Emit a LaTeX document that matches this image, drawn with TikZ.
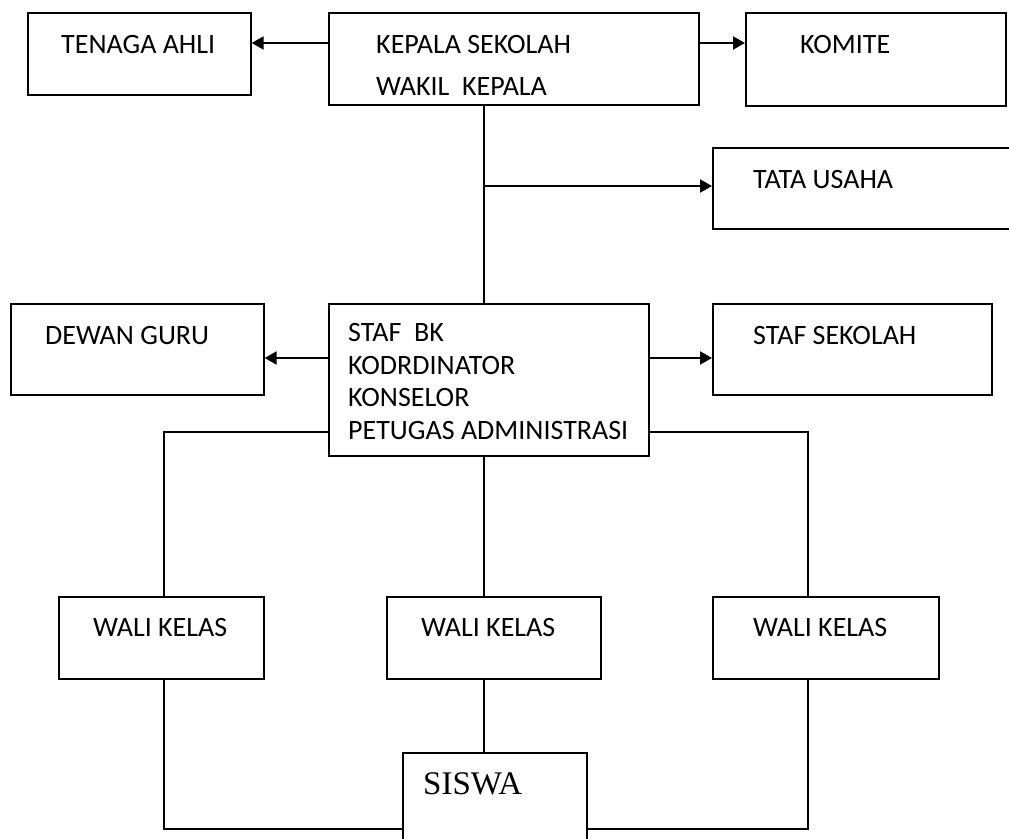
\documentclass[tikz,border=0pt]{standalone}
\usepackage{fontspec}
\setmainfont{Carlito}
\newfontfamily\timesfont{Liberation Serif}
\usetikzlibrary{arrows.meta}
\tikzset{
  box/.style={draw, line width=1.7pt, rectangle, inner sep=0pt, anchor=north west},
  lbl/.style={anchor=base west, inner sep=0pt, font=\fontsize{28}{33}\selectfont},
  conn/.style={line width=1.3pt},
  arr/.style={line width=2.2pt, -{Triangle[length=12pt,width=13pt]}},
}
\begin{document}
\begin{tikzpicture}[x=1pt,y=-1pt]
\useasboundingbox (0,0) rectangle (1009,838);
% boxes
\node[box, minimum width=223pt, minimum height=82pt] (tenaga) at (27,12) {};
\node[box, minimum width=370pt, minimum height=92pt] (kepala) at (328,12) {};
\node[box, minimum width=260pt, minimum height=93pt] (komite) at (745,12) {};
\node[box, minimum width=310pt, minimum height=81pt] (tata) at (712,147) {};
\node[box, minimum width=253pt, minimum height=91pt] (dewan) at (10,303) {};
\node[box, minimum width=320pt, minimum height=152pt] (staf) at (328,303) {};
\node[box, minimum width=279pt, minimum height=91pt] (stafsek) at (712,303) {};
\node[box, minimum width=205pt, minimum height=82pt] (wali1) at (58,596) {};
\node[box, minimum width=214pt, minimum height=82pt] (wali2) at (386,596) {};
\node[box, minimum width=226pt, minimum height=82pt] (wali3) at (712,596) {};
\node[box, minimum width=184pt, minimum height=100pt] (siswa) at (402,752) {};
% texts
\node[lbl] (t1) at (61,53) {TENAGA AHLI};
\node[lbl] (t2) at (376,53) {KEPALA SEKOLAH};
\node[lbl] (t3) at (376,95) {WAKIL\ \ KEPALA};
\node[lbl] (t4) at (800,53) {KOMITE};
\node[lbl] (t5) at (753,188) {TATA USAHA};
\node[lbl] (t6) at (45,344) {DEWAN GURU};
\node[lbl] (t7) at (348,341) {STAF\ \ BK};
\node[lbl] (t8) at (348,374) {KODRDINATOR};
\node[lbl] (t9) at (348,406) {KONSELOR};
\node[lbl] (t10) at (348,439) {PETUGAS ADMINISTRASI};
\node[lbl] (t11) at (753,344) {STAF SEKOLAH};
\node[lbl] (t12) at (93,636) {WALI KELAS};
\node[lbl] (t13) at (421,636) {WALI KELAS};
\node[lbl] (t14) at (753,636) {WALI KELAS};
\node[anchor=base west, inner sep=0pt, font=\timesfont\fontsize{33}{38}\selectfont] (t15) at (423,794) {SISWA};
% helper coordinates
\coordinate (ya) at (0,43);
\coordinate (yt) at (0,186);
\coordinate (ys) at (0,358);
\coordinate (yb) at (0,432);
\coordinate (ybot) at (0,829);
\coordinate (xm) at (484,0);
\coordinate (xl) at (164,0);
\coordinate (xr) at (808,0);
\coordinate (jt) at (xm |- yt);
\coordinate (bl) at (xl |- yb);
\coordinate (br) at (xr |- yb);
\coordinate (cl) at (xl |- ybot);
\coordinate (cr) at (xr |- ybot);
% arrows
\draw[arr] (kepala.west |- ya) -- (tenaga.east |- ya);
\draw[arr] (kepala.east |- ya) -- (komite.west |- ya);
\draw[arr] (jt) -- (tata.west |- yt);
\draw[arr] (staf.west |- ys) -- (dewan.east |- ys);
\draw[arr] (staf.east |- ys) -- (stafsek.west |- ys);
% lines
\draw[conn] (kepala.south -| xm) -- (staf.north -| xm);
\draw[conn] (staf.west |- yb) -- (bl) -- (wali1.north -| xl);
\draw[conn] (staf.east |- yb) -- (br) -- (wali3.north -| xr);
\draw[conn] (staf.south -| xm) -- (wali2.north -| xm);
\draw[conn] (wali2.south -| xm) -- (siswa.north -| xm);
\draw[conn] (wali1.south -| xl) -- (cl) -- (siswa.west |- ybot);
\draw[conn] (wali3.south -| xr) -- (cr) -- (siswa.east |- ybot);
\end{tikzpicture}
\end{document}
